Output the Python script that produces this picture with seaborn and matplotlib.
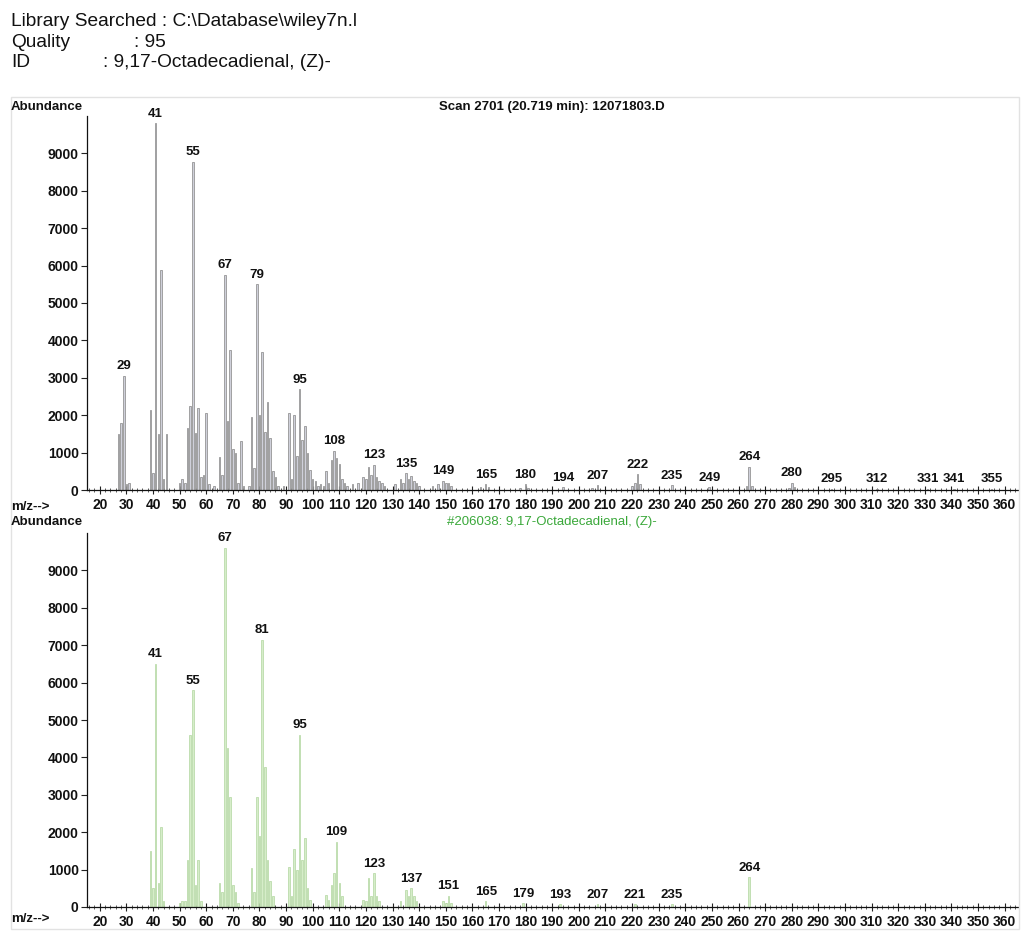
import numpy as np
import pandas as pd
import matplotlib
matplotlib.use("Agg")
import matplotlib.pyplot as plt
from matplotlib.ticker import MultipleLocator
from matplotlib.patches import Rectangle
import seaborn as sns

# ---------------- data ----------------
# Measured spectrum (Scan 2701)
mz_scan = [27, 28, 29, 30, 31,
           39, 40, 41, 42, 43, 44, 45,
           50, 51, 52, 53, 54, 55, 56, 57, 58, 59, 60, 61,
           63, 65, 66, 67, 68, 69, 70, 71, 72, 73, 74,
           76, 77, 78, 79, 80, 81, 82, 83, 84, 85, 86, 87,
           89, 91, 92, 93, 94, 95, 96, 97, 98, 99, 100, 101, 102,
           103, 104, 105, 106, 107, 108, 109, 110, 111, 112, 113,
           115, 117, 119, 120, 121, 122, 123, 124, 125, 126, 127,
           131, 133, 134, 135, 136, 137, 138, 139, 140,
           145, 147, 149, 150, 151, 152,
           163, 165, 166, 178, 180, 181, 194, 205, 207,
           220, 221, 222, 223, 235, 249, 263, 264, 265,
           279, 280, 281, 295, 312, 331, 341, 355]
ab_scan = [1500, 1800, 3050, 150, 200,
           2150, 450, 9800, 1500, 5880, 300, 1500,
           200, 300, 200, 1650, 2250, 8780, 1520, 2200, 350, 400, 2050, 150,
           100, 880, 400, 5750, 1850, 3750, 1100, 1000, 200, 1300, 100,
           100, 1960, 600, 5500, 2000, 3700, 1560, 2360, 1400, 500, 350, 100,
           100, 2070, 300, 2000, 900, 2700, 1350, 1720, 1000, 530, 300, 250, 100,
           150, 100, 520, 200, 800, 1050, 850, 700, 300, 200, 100,
           150, 200, 350, 300, 620, 400, 680, 350, 250, 200, 100,
           150, 300, 200, 450, 300, 380, 250, 200, 100,
           100, 150, 250, 200, 200, 100,
           80, 160, 80, 60, 160, 60, 80, 50, 130,
           100, 200, 420, 150, 130, 80, 100, 620, 120,
           60, 190, 80, 30, 30, 30, 30, 30]
labels_scan = [29, 41, 55, 67, 79, 95, 108, 123, 135, 149, 165, 180, 194,
               207, 222, 235, 249, 264, 280, 295, 312, 331, 341, 355]

# Library spectrum (#206038)
mz_lib = [39, 40, 41, 42, 43, 44,
          50, 51, 52, 53, 54, 55, 56, 57, 58,
          65, 66, 67, 68, 69, 70, 71, 72,
          77, 78, 79, 80, 81, 82, 83, 84, 85,
          91, 92, 93, 94, 95, 96, 97, 98, 99,
          105, 106, 107, 108, 109, 110, 111,
          119, 120, 121, 122, 123, 124, 125,
          133, 135, 136, 137, 138, 139,
          149, 150, 151, 152,
          165, 179, 193, 207, 221, 235, 264]
ab_lib = [1500, 500, 6500, 640, 2150, 150,
          100, 150, 150, 1250, 4600, 5800, 600, 1250, 150,
          650, 400, 9600, 4250, 2950, 600, 400, 100,
          1050, 400, 2950, 1900, 7150, 3750, 1250, 700, 300,
          1080, 300, 1550, 1000, 4600, 1250, 1850, 500, 200,
          320, 200, 600, 900, 1750, 650, 300,
          200, 150, 780, 300, 900, 300, 150,
          150, 450, 300, 500, 300, 150,
          150, 100, 300, 100,
          150, 100, 80, 80, 80, 80, 800]
labels_lib = [41, 55, 67, 81, 95, 109, 123, 137, 151, 165, 179, 193,
              207, 221, 235, 264]

y_ticks = [0, 1000, 2000, 3000, 4000, 5000, 6000, 7000, 8000, 9000]

# ---------------- style ----------------
sns.set_theme(style="white")
plt.rcParams["font.family"] = ["Liberation Sans", "DejaVu Sans"]

W, H = 1021, 931
fig = plt.figure(figsize=(W / 100, H / 100), dpi=100)
fig.patch.set_facecolor("white")


def fx(px):
    return px / W


def fy(py):
    return 1 - py / H


ax_left = fx(87)
ax_w = fx(1018) - fx(87)
ax_h = 374 / H
ax1 = fig.add_axes([ax_left, fy(490), ax_w, ax_h])
ax2 = fig.add_axes([ax_left, fy(907), ax_w, ax_h])

# faint outer frame
fig.add_artist(Rectangle((fx(11), fy(929)), fx(1019) - fx(11), fy(97) - fy(929),
                         transform=fig.transFigure, fill=False,
                         edgecolor="#e2e2e2", linewidth=1.0))

df_scan = pd.DataFrame({"mz": mz_scan, "ab": ab_scan})
df_lib = pd.DataFrame({"mz": mz_lib, "ab": ab_lib})

sns.barplot(data=df_scan, x="mz", y="ab", native_scale=True, width=0.6,
            color="#cfd0da", edgecolor="#8e8e8e", linewidth=0.55,
            saturation=1, errorbar=None, ax=ax1)
sns.barplot(data=df_lib, x="mz", y="ab", native_scale=True, width=0.6,
            color="#d6edc9", edgecolor="#b7d9a6", linewidth=0.55,
            saturation=1, errorbar=None, ax=ax2)


def style_axis(ax, labels, mz, ab):
    ax.set_xlim(15.2, 365)
    ax.set_ylim(0, 10000)
    ax.set_xlabel("")
    ax.set_ylabel("")
    ax.set_facecolor("white")
    for s in ("top", "right"):
        ax.spines[s].set_visible(False)
    for s in ("left", "bottom"):
        ax.spines[s].set_visible(True)
        ax.spines[s].set_color("#111111")
        ax.spines[s].set_linewidth(0.9)
    ax.xaxis.set_major_locator(MultipleLocator(10))
    ax.xaxis.set_minor_locator(MultipleLocator(2))
    ax.set_xticks(list(range(20, 361, 10)))
    ax.set_xticklabels([str(v) for v in range(20, 361, 10)])
    ax.set_yticks(y_ticks)
    ax.set_yticklabels([str(v) for v in y_ticks])
    ax.tick_params(axis="x", which="major", direction="inout", length=6,
                   width=0.8, color="#222222", labelsize=10, pad=3,
                   bottom=True, labelcolor="#111111")
    ax.tick_params(axis="x", which="minor", direction="inout", length=3.5,
                   width=0.6, color="#444444", bottom=True)
    ax.tick_params(axis="y", which="major", direction="out", length=4,
                   width=0.8, color="#222222", labelsize=10, pad=2,
                   left=True, labelcolor="#111111")
    for t in ax.get_xticklabels() + ax.get_yticklabels():
        t.set_fontweight("bold")
    lookup = dict(zip(mz, ab))
    for m in labels:
        v = lookup.get(m, 0)
        ax.annotate(str(m), (m, v), xytext=(0, 2.5), textcoords="offset points",
                    ha="center", va="bottom", fontsize=9.5, fontweight="bold",
                    color="#111111", annotation_clip=False)


style_axis(ax1, labels_scan, mz_scan, ab_scan)
style_axis(ax2, labels_lib, mz_lib, ab_lib)

# ---------------- texts ----------------
hdr = dict(fontsize=13.8, color="#111111", va="baseline", ha="left")
fig.text(fx(11), fy(26), "Library Searched : C:\\Database\\wiley7n.l", **hdr)
fig.text(fx(11), fy(47), "Quality", **hdr)
fig.text(fx(134), fy(47), ": 95", **hdr)
fig.text(fx(11), fy(67), "ID", **hdr)
fig.text(fx(103), fy(67), ": 9,17-Octadecadienal, (Z)-", **hdr)

lab = dict(fontsize=9.5, color="#111111", va="center", ha="left",
           fontweight="bold")
fig.text(fx(11), fy(107), "Abundance", **lab)
fig.text(fx(11), fy(522), "Abundance", **lab)
fig.text(fx(11), fy(507), "m/z-->", **lab)
fig.text(fx(11), fy(919), "m/z-->", **lab)

fig.text(fx(552), fy(107), "Scan 2701 (20.719 min): 12071803.D",
         fontsize=9.5, color="#111111", ha="center", va="center",
         fontweight="bold")
fig.text(fx(552), fy(522), "#206038: 9,17-Octadecadienal, (Z)-",
         fontsize=9.5, color="#3aa83a", ha="center", va="center")

fig.savefig("out.png", dpi=100, facecolor="white")
